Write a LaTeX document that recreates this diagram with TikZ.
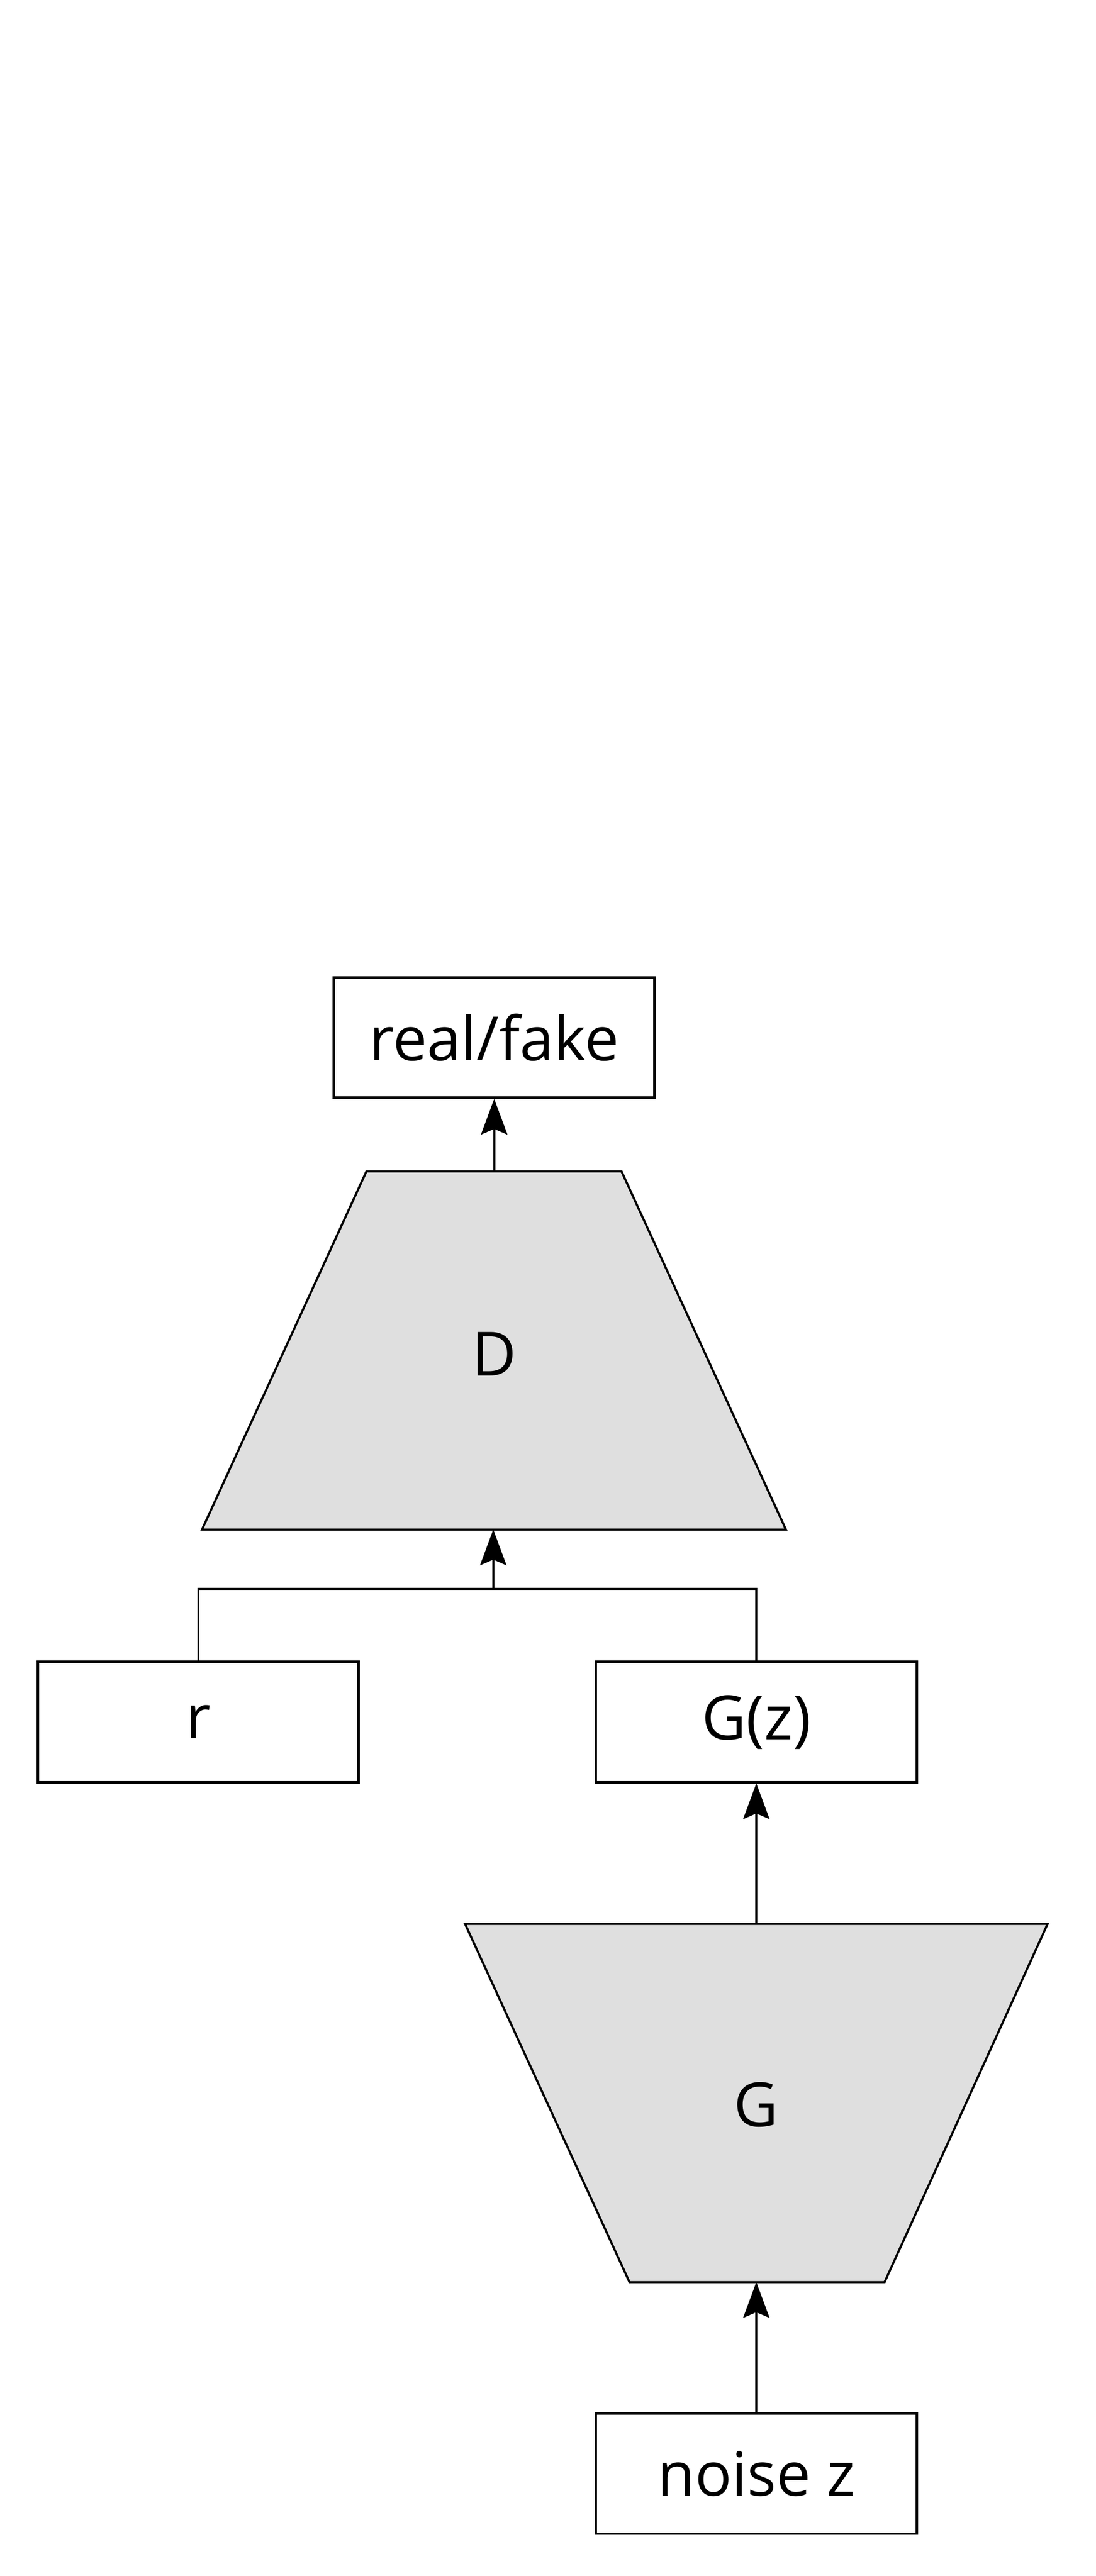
\documentclass[tikz,border=0pt]{standalone}
\usepackage{fontspec}
\setmainfont{Open Sans}
\usetikzlibrary{arrows.meta}
\begin{document}
\begin{tikzpicture}[box/.style={draw, line width=1.5pt, minimum width=6.83cm, minimum height=2.56cm, inner sep=0pt, font=\fontsize{37}{44}\selectfont},
            net/.style={draw, line width=1.3pt, fill=gray!25},
            label/.style={font=\fontsize{37}{44}\selectfont},
            feed/.style={line width=1.2pt, -{Stealth[length=0.76cm, width=0.56cm, inset=0.12cm]}}]
            \useasboundingbox (0,0) rectangle (23.32,-54.87);
            % discriminator
            \filldraw[net] (7.80,-24.95) -- (13.23,-24.95) -- (16.73,-32.58) -- (4.30,-32.58) -- cycle;
            \coordinate (Dtop) at (10.52,-24.95);
            \coordinate (Dbot) at (10.50,-32.58);
            \node[label] (D) at (10.52,-28.84) {D};
            % generator
            \filldraw[net] (9.90,-40.98) -- (22.30,-40.98) -- (18.83,-48.61) -- (13.40,-48.61) -- cycle;
            \coordinate (Gtop) at (16.10,-40.98);
            \coordinate (Gbot) at (16.10,-48.61);
            \node[label] (G) at (16.10,-44.83) {G};
            % boxes
            \node[box] (out) at (10.52,-22.10) {real/fake};
            \node[box] (r) at (4.22,-36.68) {r};
            \node[box] (Gz) at (16.10,-36.68) {G(z)};
            \node[box] (noise) at (16.10,-52.69) {noise z};
            % connectors
            \coordinate (join) at (10.50,-33.84);
            \draw[line width=1.2pt] (r.north) |- (join) -| (Gz.north);
            \draw[feed] (join) -- (Dbot);
            \draw[feed] (Dtop) -- (out.south);
            \draw[feed] (Gtop) -- (Gz.south);
            \draw[feed] (noise.north) -- (Gbot);
        \end{tikzpicture}
\end{document}
